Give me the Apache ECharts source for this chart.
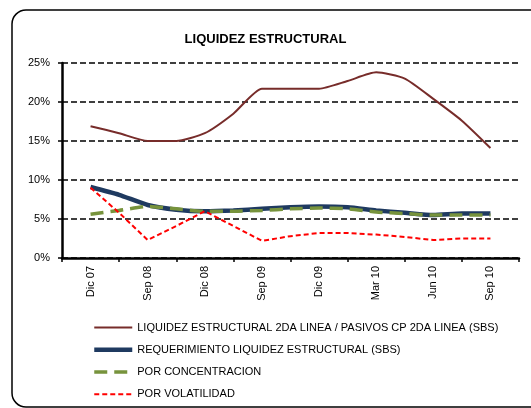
<!DOCTYPE html>
<html>
<head>
<meta charset="utf-8">
<script src="https://cdn.jsdelivr.net/npm/echarts@6/dist/echarts.min.js"></script>
<style>
  html, body { margin: 0; padding: 0; background: #fff; }
  #main { width: 531px; height: 408px; }
</style>
</head>
<body>
<div id="main"></div>
<script>
// etiquetas del eje x (trimestres mostrados)
var categorias = ['Dic 07', 'Sep 08', 'Dic 08', 'Sep 09', 'Dic 09', 'Mar 10', 'Jun 10', 'Sep 10'];
// posicion de cada observacion sobre el eje (en unidades de categoria)
var posiciones = [0, 0.5, 1, 1.5, 2, 2.5, 3, 3.5, 4, 4.5, 5, 5.5, 6, 6.5, 7];

var liquidez2da   = [16.9, 16.0, 15.0, 15.0, 16.0, 18.5, 21.7, 21.7, 21.7, 22.7, 23.8, 23.0, 20.4, 17.6, 14.1];
var requerimiento = [9.1, 8.1, 6.8, 6.2, 6.0, 6.1, 6.3, 6.5, 6.6, 6.5, 6.1, 5.8, 5.5, 5.7, 5.7];
var concentracion = [5.6, 6.1, 6.6, 6.3, 6.0, 6.0, 6.1, 6.3, 6.4, 6.3, 5.9, 5.7, 5.5, 5.5, 5.5];
var volatilidad   = [9.0, 5.8, 2.3, 4.1, 6.0, 4.1, 2.2, 2.8, 3.2, 3.2, 3.0, 2.7, 2.3, 2.5, 2.5];

var nombres = [
  'LIQUIDEZ ESTRUCTURAL 2DA LINEA / PASIVOS CP 2DA LINEA (SBS)',
  'REQUERIMIENTO LIQUIDEZ ESTRUCTURAL (SBS)',
  'POR CONCENTRACION',
  'POR VOLATILIDAD'
];

function pares(vals) {
  var out = [];
  for (var i = 0; i < vals.length; i++) out.push([posiciones[i], vals[i]]);
  return out;
}

var chart = echarts.init(document.getElementById('main'));
var font = 'Liberation Sans, Arial, sans-serif';

var option = {
  backgroundColor: '#ffffff',
  animation: false,
  textStyle: { fontFamily: font },
  title: {
    text: 'LIQUIDEZ ESTRUCTURAL',
    left: 'center',
    top: 28,
    textStyle: { fontSize: 13, fontWeight: 'bold', color: '#000', fontFamily: font }
  },
  graphic: [{
    type: 'rect',
    shape: { x: 12, y: 10, width: 600, height: 397, r: 14 },
    style: { fill: 'none', stroke: '#000', lineWidth: 1.5 },
    silent: true
  }],
  legend: {
    orient: 'vertical',
    left: 87,
    top: 317,
    itemWidth: 38,
    itemHeight: 14,
    itemGap: 11,
    itemStyle: { opacity: 0 },
    lineStyle: { width: 'inherit' },
    textStyle: { fontSize: 11, color: '#000', fontFamily: font },
    data: nombres
  },
  grid: { left: 62, right: 12, top: 63, bottom: 150, containLabel: false },
  xAxis: [{
    type: 'category',
    data: categorias,
    boundaryGap: true,
    axisLine: { lineStyle: { color: '#000', width: 2.5 } },
    axisTick: { show: true, length: 4, lineStyle: { color: '#000', width: 1.5 } },
    axisLabel: { rotate: 90, fontSize: 11, color: '#000', margin: 8, fontFamily: font }
  }, {
    type: 'value',
    min: -0.5,
    max: 7.5,
    show: false
  }],
  yAxis: {
    type: 'value',
    min: 0,
    max: 25,
    interval: 5,
    axisLine: { show: true, onZero: false, lineStyle: { color: '#000', width: 2.5 } },
    axisTick: { show: true, length: 4, lineStyle: { color: '#000', width: 1.5 } },
    axisLabel: { formatter: '{value}%', fontSize: 11, color: '#000', margin: 12, fontFamily: font },
    splitLine: { lineStyle: { color: '#000', width: 1.5, type: [6, 3] } }
  },
  series: [{
    name: nombres[0],
    type: 'line',
    xAxisIndex: 1,
    data: pares(liquidez2da),
    smooth: 0.2,
    symbol: 'none',
    color: '#772C2A',
    lineStyle: { color: '#772C2A', width: 2 }
  }, {
    name: nombres[1],
    type: 'line',
    xAxisIndex: 1,
    data: pares(requerimiento),
    smooth: 0.2,
    symbol: 'none',
    color: '#1F3A60',
    lineStyle: { color: '#1F3A60', width: 4.5 }
  }, {
    name: nombres[2],
    type: 'line',
    xAxisIndex: 1,
    data: pares(concentracion),
    smooth: 0.2,
    symbol: 'none',
    color: '#77933C',
    lineStyle: { color: '#77933C', width: 3.5, type: [13, 7] }
  }, {
    name: nombres[3],
    type: 'line',
    xAxisIndex: 1,
    data: pares(volatilidad),
    symbol: 'none',
    color: '#FF0000',
    lineStyle: { color: '#FF0000', width: 2, type: [5, 3] }
  }]
};

chart.setOption(option);
</script>
</body>
</html>
